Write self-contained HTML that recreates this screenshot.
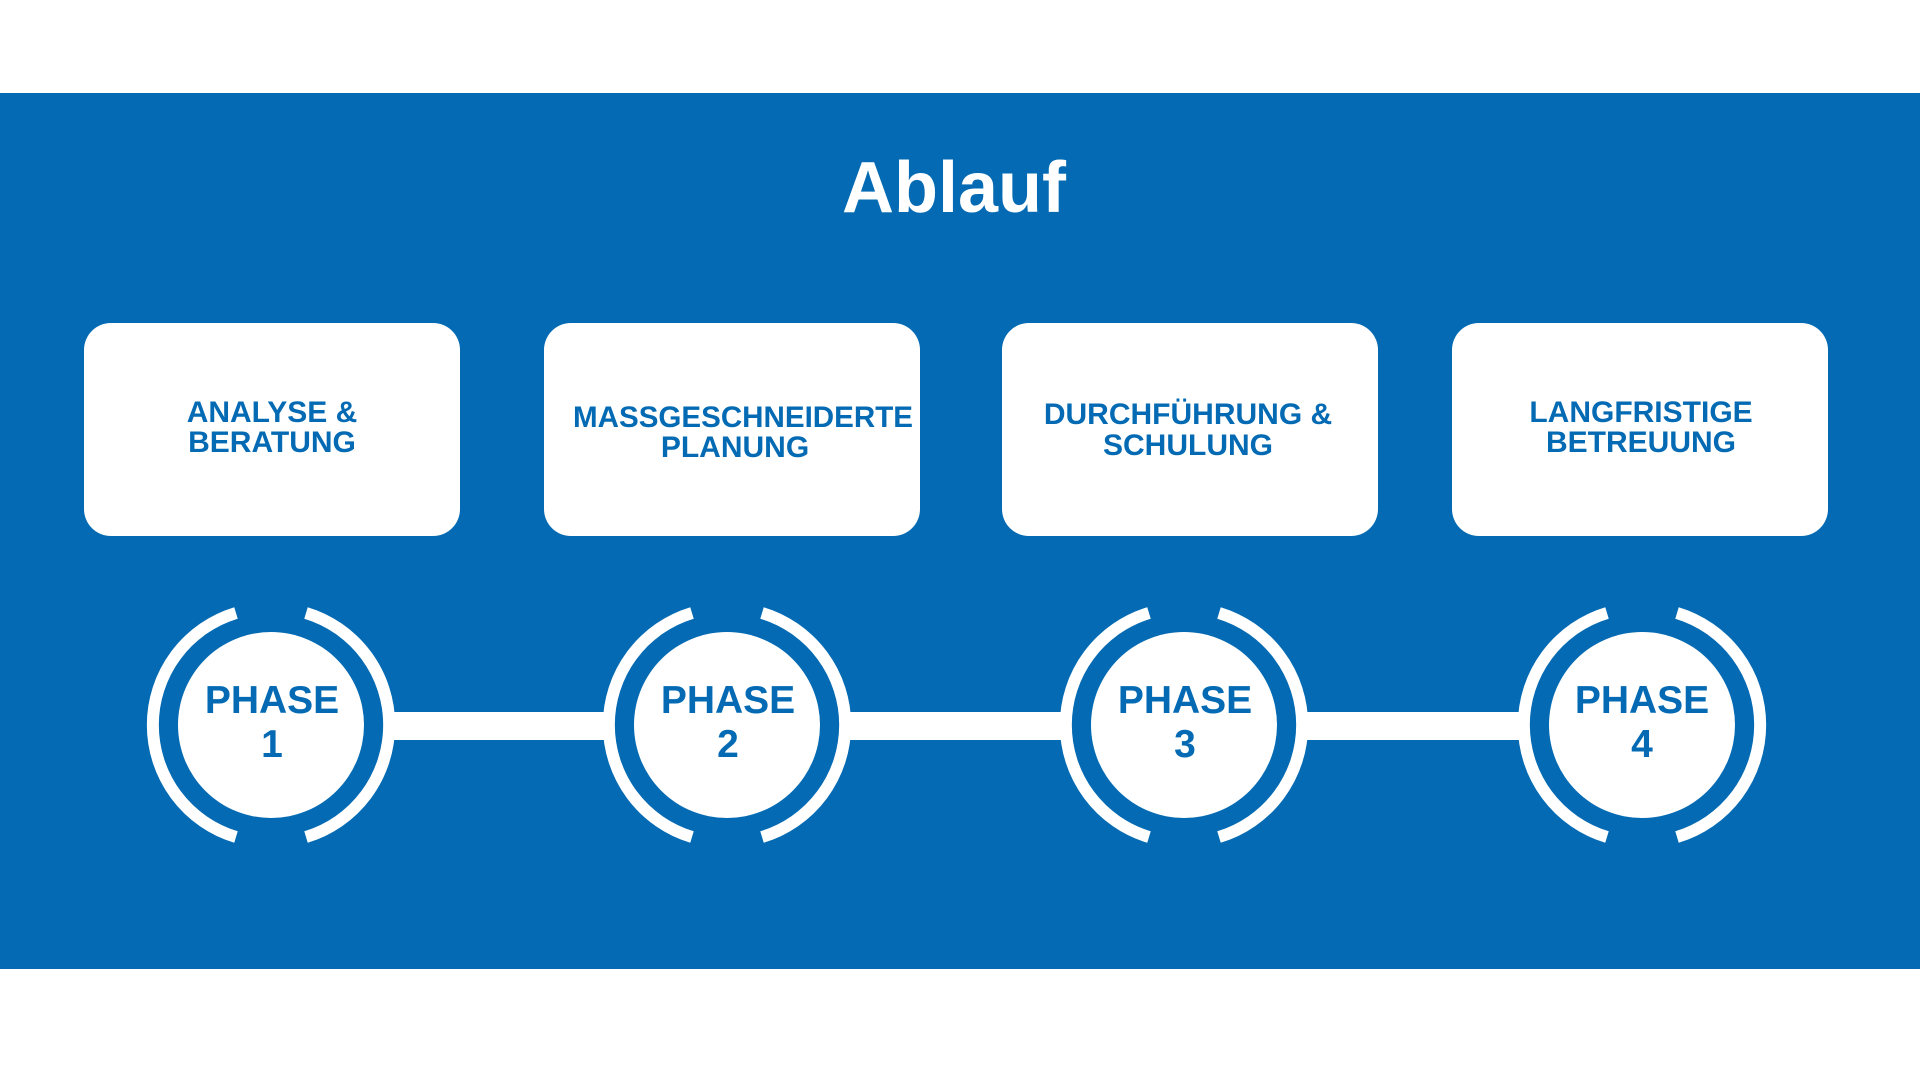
<!DOCTYPE html>
<html><head><meta charset="utf-8"><style>
html,body{margin:0;padding:0;background:#fff;}
svg{display:block;}
text{font-family:"Liberation Sans",Arial,sans-serif;font-weight:bold;}
</style></head><body>
<svg width="1920" height="1080" viewBox="0 0 1920 1080" xmlns="http://www.w3.org/2000/svg">
<rect x="0" y="0" width="1920" height="1080" fill="#fff"/>
<rect x="0" y="93" width="1920" height="876" fill="#036AB3"/>
<text x="954" y="212" font-size="72" fill="#fff" text-anchor="middle">Ablauf</text>

<g fill="#fff">
<rect x="84" y="323" width="376" height="213" rx="27"/>
<rect x="544" y="323" width="376" height="213" rx="27"/>
<rect x="1002" y="323" width="376" height="213" rx="27"/>
<rect x="1452" y="323" width="376" height="213" rx="27"/>
</g>
<g fill="#036AB3" font-size="30" text-anchor="middle">
<text x="272" y="422">ANALYSE &amp;</text><text x="272" y="452">BERATUNG</text>
<text x="743" y="427" textLength="340" lengthAdjust="spacingAndGlyphs">MASSGESCHNEIDERTE</text><text x="735" y="457">PLANUNG</text>
<text x="1188" y="424">DURCHFÜHRUNG &amp;</text><text x="1188" y="455">SCHULUNG</text>
<text x="1641" y="422">LANGFRISTIGE</text><text x="1641" y="452">BETREUUNG</text>
</g>

<g fill="#fff">
<rect x="385" y="712" width="228" height="28"/>
<rect x="841" y="712" width="228" height="28"/>
<rect x="1298" y="712" width="230" height="28"/>
</g>

<g fill="none" stroke="#fff" stroke-width="12">
<path d="M306 613 A117 117 0 0 1 306 837 M236 613 A117 117 0 0 0 236 837"/>
<path d="M762 613 A117 117 0 0 1 762 837 M692 613 A117 117 0 0 0 692 837"/>
<path d="M1219 613 A117 117 0 0 1 1219 837 M1149 613 A117 117 0 0 0 1149 837"/>
<path d="M1677 613 A117 117 0 0 1 1677 837 M1607 613 A117 117 0 0 0 1607 837"/>
</g>
<g fill="#fff">
<circle cx="271" cy="725" r="93"/>
<circle cx="727" cy="725" r="93"/>
<circle cx="1184" cy="725" r="93"/>
<circle cx="1642" cy="725" r="93"/>
</g>
<g fill="#036AB3" font-size="39" text-anchor="middle">
<text x="272" y="713">PHASE</text><text x="272" y="757">1</text>
<text x="728" y="713">PHASE</text><text x="728" y="757">2</text>
<text x="1185" y="713">PHASE</text><text x="1185" y="757">3</text>
<text x="1642" y="713">PHASE</text><text x="1642" y="757">4</text>
</g>
</svg>
</body></html>
